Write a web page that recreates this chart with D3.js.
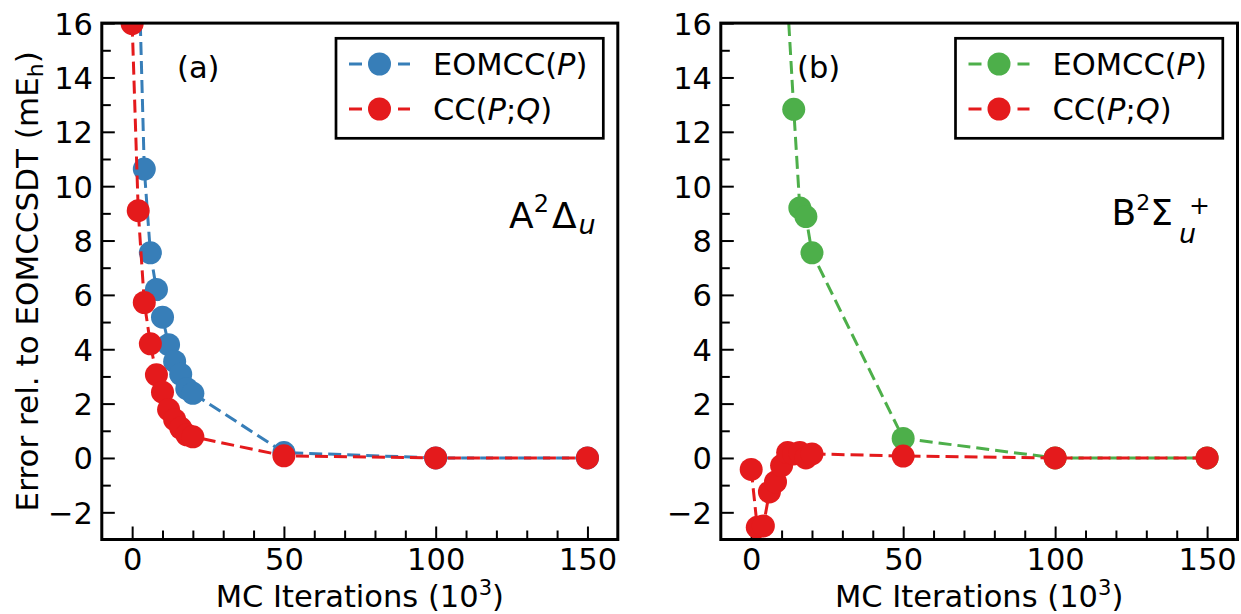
<!DOCTYPE html>
<html>
<head>
<meta charset="utf-8">
<script src="https://cdn.jsdelivr.net/npm/d3@7"></script>
<style>
  html, body { margin: 0; padding: 0; background: #fff; }
  svg { display: block; font-family: "DejaVu Sans", sans-serif; }
</style>
</head>
<body>
<svg id="fig" width="1241" height="614"></svg>
<script>
// MC iteration counts (thousands)
const itersPQ = [0, 2, 4, 6, 8, 10, 12, 14, 16, 18, 20, 50, 100, 150];
const itersEomA = [2, 4, 6, 8, 10, 12, 14, 16, 18, 20, 50, 100, 150];
const itersEomB = [12, 14, 16, 18, 20, 50, 100, 150];

// Errors relative to EOMCCSDT (mEh), A 2Δu state
const eomA = [18.8, 10.63, 7.55, 6.2, 5.18, 4.17, 3.55, 3.08, 2.55, 2.38, 0.2, 0.0, 0.0];
const pqA  = [15.98, 9.1, 5.72, 4.2, 3.06, 2.42, 1.78, 1.41, 1.1, 0.85, 0.78, 0.08, 0.0, 0.0];

// Errors relative to EOMCCSDT (mEh), B 2Σu+ state
const eomB = [16.7, 12.83, 9.2, 8.88, 7.55, 0.72, 0.0, 0.0];
const pqB  = [-0.42, -2.55, -2.5, -1.25, -0.88, -0.28, 0.2, 0.15, 0.2, 0.0, 0.15, 0.07, 0.0, 0.0];

// Axis ticks
const xMajorTicks = [0, 50, 100, 150];
const xMinorTicks = [10, 20, 30, 40, 60, 70, 80, 90, 110, 120, 130, 140];
const yMajorTicks = [-2, 0, 2, 4, 6, 8, 10, 12, 14, 16];
const yMinorTicks = [-1, 1, 3, 5, 7, 9, 11, 13, 15];

const legendNames = ["EOMCC(", "CC("];

const BLUE = "#377eb8", RED = "#e41a1c", GREEN = "#4daf4a";
const FONT = 30.5;

const svg = d3.select("#fig");
const yTop = 23.1, yBot = 539.5;

const panels = [
  { key: "a", left: 101.8, right: 617.8, tag: "(a)", tagX: 177,
    legendX: 336,
    series: [
      { xs: itersEomA, ys: eomA, color: BLUE },
      { xs: itersPQ, ys: pqA, color: RED }
    ] },
  { key: "b", left: 720.8, right: 1237.5, tag: "(b)", tagX: 797,
    legendX: 955.5,
    series: [
      { xs: itersEomB, ys: eomB, color: GREEN },
      { xs: itersPQ, ys: pqB, color: RED }
    ] }
];

panels.forEach(p => {
  const x = d3.scaleLinear().domain([-10, 160]).range([p.left, p.right]);
  const y = d3.scaleLinear().domain([-3, 16]).range([yBot, yTop]);
  const g = svg.append("g").attr("class", "panel-" + p.key);

  // clip region = plotting area
  const clipId = "clip-" + p.key;
  svg.append("clipPath").attr("id", clipId)
    .append("rect")
    .attr("x", p.left).attr("y", yTop)
    .attr("width", p.right - p.left).attr("height", yBot - yTop);

  // inward ticks
  const xMajor = d3.axisBottom(x).tickValues(xMajorTicks).tickSize(-13).tickPadding(8.5).tickFormat(d3.format("d"));
  const xMinor = d3.axisBottom(x).tickValues(xMinorTicks).tickSize(-9).tickFormat("");
  const yMajor = d3.axisLeft(y).tickValues(yMajorTicks).tickSize(-13).tickPadding(8.8).tickFormat(d3.format("d"));
  const yMinor = d3.axisLeft(y).tickValues(yMinorTicks).tickSize(-9).tickFormat("");

  [[xMajor, "bottom"], [xMinor, "bottom"], [yMajor, "left"], [yMinor, "left"]].forEach(([ax, side]) => {
    const a = g.append("g")
      .attr("transform", side === "bottom" ? `translate(0,${yBot})` : `translate(${p.left},0)`)
      .call(ax);
    a.select(".domain").remove();
    a.selectAll(".tick line").attr("stroke", "#000").attr("stroke-width", 2);
    a.selectAll(".tick text")
      .attr("fill", "#000")
      .style("font-size", FONT + "px")
      .style("font-family", "DejaVu Sans");
    if (side === "left") a.selectAll(".tick text").attr("dy", "0.36em");
  });

  // data lines and markers
  const plot = g.append("g").attr("clip-path", `url(#${clipId})`);
  p.series.forEach(s => {
    const pts = s.xs.map((v, i) => [v, s.ys[i]]);
    plot.append("path")
      .datum(pts)
      .attr("fill", "none")
      .attr("stroke", s.color)
      .attr("stroke-width", 3)
      .attr("stroke-dasharray", "13,6")
      .attr("d", d3.line().x(d => x(d[0])).y(d => y(d[1])));
    plot.selectAll(null)
      .data(pts)
      .enter().append("circle")
      .attr("cx", d => x(d[0]))
      .attr("cy", d => y(d[1]))
      .attr("r", 11.5)
      .attr("fill", s.color);
  });

  // frame
  g.append("rect")
    .attr("x", p.left).attr("y", yTop)
    .attr("width", p.right - p.left).attr("height", yBot - yTop)
    .attr("fill", "none").attr("stroke", "#000").attr("stroke-width", 3);

  // x axis title
  const xt = g.append("text")
    .attr("x", (p.left + p.right) / 2).attr("y", 607)
    .attr("text-anchor", "middle")
    .style("font-size", FONT + "px");
  xt.append("tspan").text("MC Iterations (10");
  xt.append("tspan").attr("dy", -12).style("font-size", "21px").text("3");
  xt.append("tspan").attr("dy", 12).text(")");

  // panel tag
  g.append("text").attr("x", p.tagX).attr("y", 78)
    .style("font-size", FONT + "px").text(p.tag);

  // legend
  const lg = g.append("g").attr("transform", `translate(${p.legendX},38.3)`);
  lg.append("rect").attr("width", 267.3).attr("height", 100)
    .attr("fill", "#fff").attr("stroke", "#000").attr("stroke-width", 2.7);
  p.series.forEach((s, i) => {
    const ry = 25.7 + i * 45;
    lg.append("line").attr("x1", 13).attr("x2", 74).attr("y1", ry).attr("y2", ry)
      .attr("stroke", s.color).attr("stroke-width", 3).attr("stroke-dasharray", "13,36");
    lg.append("circle").attr("cx", 43.5).attr("cy", ry).attr("r", 11.5).attr("fill", s.color);
    const t = lg.append("text").attr("x", 97).attr("y", ry + 11).style("font-size", FONT + "px");
    t.append("tspan").text(legendNames[i]);
    t.append("tspan").style("font-style", "italic").text("P");
    if (i === 1) {
      t.append("tspan").text(";");
      t.append("tspan").style("font-style", "italic").text("Q");
    }
    t.append("tspan").text(")");
  });
});

// y axis title
const yl = svg.append("text")
  .attr("transform", "translate(38,281.3) rotate(-90)")
  .attr("text-anchor", "middle")
  .style("font-size", "31px");
yl.append("tspan").text("Error rel. to EOMCCSDT (mE");
yl.append("tspan").attr("dy", 5).style("font-size", "22px").text("h");
yl.append("tspan").attr("dy", -5).text(")");

// state labels
const sA = svg.append("text").attr("x", 509).attr("y", 228).style("font-size", "36px");
sA.append("tspan").text("A");
sA.append("tspan").attr("dy", -16).style("font-size", "24px").text("2");
sA.append("tspan").attr("dx", 3).attr("dy", 16).text("Δ");
sA.append("tspan").attr("dx", 2).attr("dy", 6).style("font-size", "27px").style("font-style", "italic").text("u");

const sB = svg.append("text").attr("x", 1111.5).attr("y", 225).style("font-size", "36px");
sB.append("tspan").text("B");
sB.append("tspan").attr("dy", -15).style("font-size", "22px").text("2");
sB.append("tspan").attr("dy", 15).text("Σ");
sB.append("tspan").attr("dx", 6).attr("dy", 18).style("font-size", "27px").style("font-style", "italic").text("u");
sB.append("tspan").attr("dx", -7).attr("dy", -29).style("font-size", "25px").text("+");
</script>
</body>
</html>
